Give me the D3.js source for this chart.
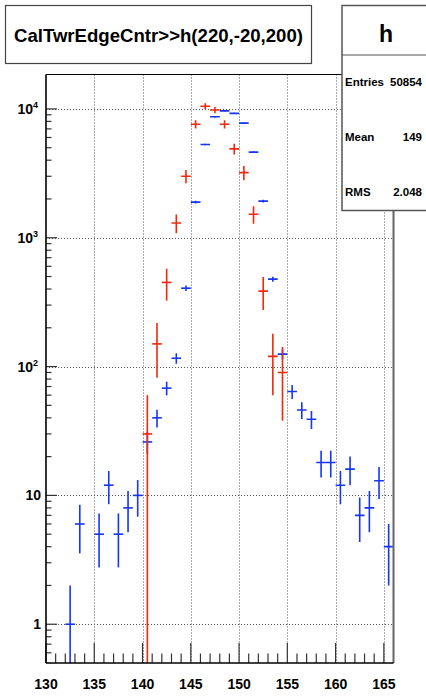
<!DOCTYPE html>
<html>
<head>
<meta charset="utf-8">
<script src="https://cdn.jsdelivr.net/npm/d3@7"></script>
<style>
  html, body { margin: 0; padding: 0; background: #fff; }
  svg { display: block; }
  text { font-family: "Liberation Sans", Arial, Helvetica, sans-serif; font-weight: bold; fill: #000; }
</style>
</head>
<body>
<script>
// Histogram h: CalTwrEdgeCntr, bin width 1 (bin centres)
const blueBins   = [132.5,133.5,135.5,136.5,137.5,138.5,139.5,140.5,141.5,142.5,143.5,144.5,145.5,146.5,147.5,148.5,149.5,150.5,151.5,152.5,153.5,154.5,155.5,156.5,157.5,158.5,159.5,160.5,161.5,162.5,163.5,164.5,165.5];
const blueValues = [1,6,5,12,5,8,10,26,40,68,116,406,1890,5300,8690,9660,9230,7760,4620,1925,477,125,64,46,39,18,18,12,16,7,8,13,4];
const blueErrors = [1,2.45,2.24,3.46,2.24,2.83,3.16,5.1,6.32,8.25,10.8,20.1,43.5,72.8,93.2,98.3,96.1,88.1,68,43.9,21.8,11.2,8,6.78,6.24,4.24,4.24,3.46,4,2.65,2.83,3.61,2];

// Overlaid weighted histogram (drawn "same")
const redBins   = [140.5,141.5,142.5,143.5,144.5,145.5,146.5,147.5,148.5,149.5,150.5,151.5,152.5,153.5,154.5];
const redValues = [30,150,450,1300,3000,7600,10500,9800,7600,4900,3200,1520,385,120,90];
const redErrors = [30,68,125,215,350,550,560,540,550,470,400,235,110,60,52];

const xTickLabels = [130,135,140,145,150,155,160,165];
const yDecades    = [1,10,100,1000,10000];

const titleText = "CalTwrEdgeCntr>>h(220,-20,200)";
const statsName = "h";
const statsRows = [["Entries","50854"],["Mean","149"],["RMS","2.048"]];

const W = 426, H = 698;
const frame = {left: 46, right: 393.5, top: 74.5, bottom: 663};
const binWidth = 1;

const svg = d3.select("body").append("svg").attr("width", W).attr("height", H);

const x = d3.scaleLinear().domain([130, 166]).range([frame.left, frame.right]);
const y = d3.scaleLog().domain([0.5, 18500]).range([frame.bottom, frame.top]);

// grid
const grid = svg.append("g").attr("stroke", "#555").attr("stroke-width", 1).attr("stroke-dasharray", "1,2");
grid.selectAll("line.gx").data(xTickLabels.filter(v => v > 130)).join("line")
  .attr("x1", d => Math.round(x(d)) + 0.5).attr("x2", d => Math.round(x(d)) + 0.5)
  .attr("y1", frame.top).attr("y2", frame.bottom);
grid.selectAll("line.gy").data(yDecades).join("line")
  .attr("y1", d => Math.round(y(d)) + 0.5).attr("y2", d => Math.round(y(d)) + 0.5)
  .attr("x1", frame.left).attr("x2", frame.right);

// data
svg.append("clipPath").attr("id", "plotclip").append("rect")
  .attr("x", frame.left).attr("y", frame.top)
  .attr("width", frame.right - frame.left).attr("height", frame.bottom - frame.top);

function drawSeries(bins, values, errors, color) {
  const g = svg.append("g").attr("clip-path", "url(#plotclip)")
    .attr("stroke", color).attr("stroke-width", 1.6).attr("fill", "none");
  const pts = bins.map((b, i) => ({b, v: values[i], e: errors[i]}));
  g.selectAll("line.h").data(pts).join("line")
    .attr("x1", d => x(d.b - binWidth / 2)).attr("x2", d => x(d.b + binWidth / 2))
    .attr("y1", d => y(d.v)).attr("y2", d => y(d.v));
  g.selectAll("line.v").data(pts).join("line")
    .attr("x1", d => x(d.b)).attr("x2", d => x(d.b))
    .attr("y1", d => y(d.v + d.e))
    .attr("y2", d => d.v - d.e > 0.5 ? y(d.v - d.e) : frame.bottom + 5);
}
drawSeries(blueBins, blueValues, blueErrors, "#1536f5");
drawSeries(redBins, redValues, redErrors, "#f2280c");

// frame
svg.append("line").attr("x1", frame.left).attr("x2", frame.right)
  .attr("y1", frame.top).attr("y2", frame.top).attr("stroke", "#000").attr("stroke-width", 1);
svg.append("line").attr("x1", frame.right).attr("x2", frame.right)
  .attr("y1", frame.top).attr("y2", frame.bottom).attr("stroke", "#666").attr("stroke-width", 2);

// x axis
const xAxisG = svg.append("g").attr("stroke", "#333").attr("stroke-width", 1.2);
const xMinor = d3.range(130, 166, 1);
xAxisG.selectAll("line").data(xMinor).join("line")
  .attr("x1", d => x(d)).attr("x2", d => x(d))
  .attr("y1", frame.bottom)
  .attr("y2", d => frame.bottom - (d % 5 === 0 ? 20 : 9.5));
svg.append("line").attr("x1", frame.left).attr("x2", frame.right)
  .attr("y1", frame.bottom).attr("y2", frame.bottom).attr("stroke", "#000").attr("stroke-width", 1.6);
svg.append("g").selectAll("text").data(xTickLabels).join("text")
  .attr("x", d => x(d)).attr("y", 689).attr("text-anchor", "middle")
  .style("font-size", "14px").text(d => d);

// y axis
const yMinor = [];
[-1, 0, 1, 2, 3, 4].forEach(p => {
  for (let k = 1; k <= 9; k++) {
    const v = k * Math.pow(10, p);
    if (v >= 0.5 && v <= 18500) yMinor.push(v);
  }
});
svg.append("g").attr("stroke", "#333").attr("stroke-width", 1.2)
  .selectAll("line").data(yMinor).join("line")
  .attr("y1", d => y(d)).attr("y2", d => y(d))
  .attr("x1", frame.left)
  .attr("x2", d => frame.left + (yDecades.includes(d) ? 11 : 5.5));
svg.append("line").attr("x1", frame.left).attr("x2", frame.left)
  .attr("y1", frame.top).attr("y2", frame.bottom).attr("stroke", "#000").attr("stroke-width", 1.6);

const yl = svg.append("g");
yDecades.forEach(d => {
  const p = Math.round(Math.log10(d));
  const t = yl.append("text").attr("y", y(d) + 5).attr("text-anchor", "end").style("font-size", "14px");
  if (p <= 1) {
    t.attr("x", 41).text(d);
  } else {
    t.attr("x", 38);
    t.append("tspan").text("10");
    t.append("tspan").attr("dy", -6).style("font-size", "9px").text(p);
  }
});

// title box
svg.append("rect").attr("x", 5.5).attr("y", 5.5).attr("width", 306).attr("height", 58)
  .attr("fill", "#fff").attr("stroke", "#444").attr("stroke-width", 1.2);
svg.append("text").attr("x", 158.5).attr("y", 42).attr("text-anchor", "middle")
  .style("font-size", "18.6px").text(titleText);

// stats box
svg.append("rect").attr("x", 342).attr("y", 5.5).attr("width", 100).attr("height", 205)
  .attr("fill", "#fff").attr("stroke", "#555").attr("stroke-width", 1.5);
svg.append("line").attr("x1", 342).attr("x2", 426).attr("y1", 55).attr("y2", 55)
  .attr("stroke", "#555").attr("stroke-width", 1.2);
svg.append("text").attr("x", 386).attr("y", 42).attr("text-anchor", "middle")
  .style("font-size", "23px").text(statsName);
statsRows.forEach((r, i) => {
  const yy = 86 + i * 55;
  svg.append("text").attr("x", 345).attr("y", yy).style("font-size", "11.5px").text(r[0]);
  svg.append("text").attr("x", 422).attr("y", yy).attr("text-anchor", "end").style("font-size", "11.5px").text(r[1]);
});
</script>
</body>
</html>
